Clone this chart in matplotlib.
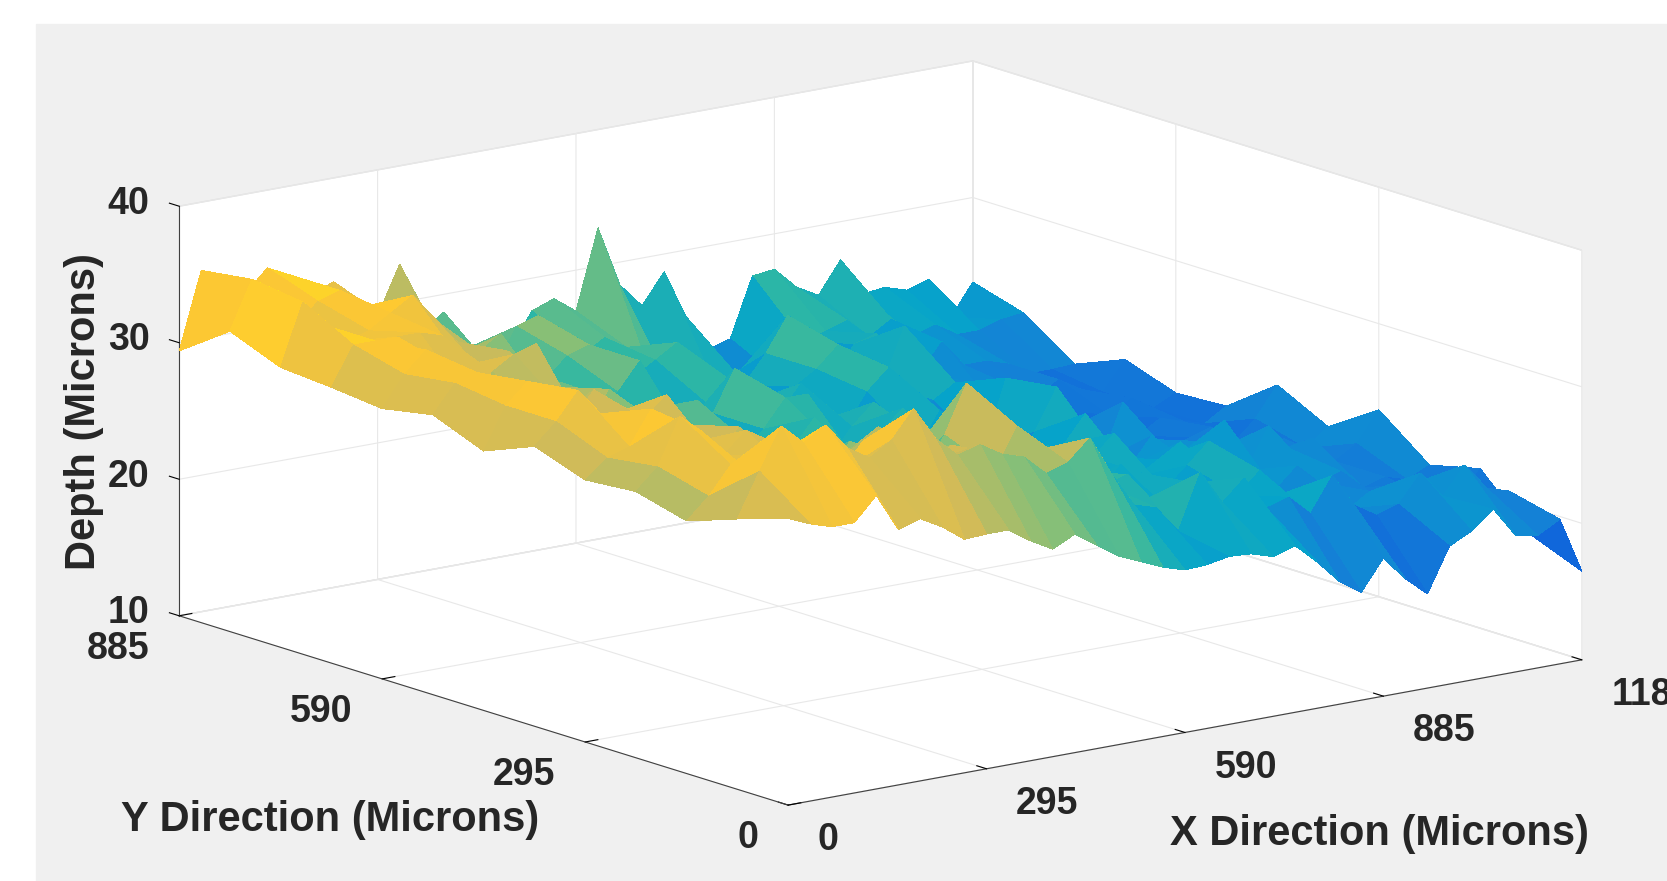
import matplotlib
matplotlib.use('Agg')
import matplotlib.pyplot as plt
from matplotlib.colors import LinearSegmentedColormap
from matplotlib.patches import Rectangle
import numpy as np

plt.rcParams['font.family'] = ['Liberation Sans', 'DejaVu Sans']

# depth, one row per y position (front to back)
y_pos = [0, 73.75, 147.5, 221.25, 295, 368.75, 442.5, 516.25, 590, 663.75, 737.5, 811.25, 885]
x_pos = [i * 1180 / 36 for i in range(37)]
depth = [
 [31.0,30.3,29.8,29.8,31.5,28.7,29.2,28.3,27.1,27.2,27.2,26.1,25.2,26.0,24.9,23.8,23.1,22.4,21.9,22.0,22.3,22.2,21.7,22.2,20.7,19.0,17.9,20.1,18.3,16.9,20.1,20.9,22.2,20.0,19.7,20.6,16.5],
 [29.8,33,36,34.5,35.5,33.5,32.5,33.5,35.5,33,31.5,32,31,30.5,29,29.5,31,28,25.5,25,23,27,24.5,26,23.5,24,22.5,25,22.5,21.5,22,24,22,24,22,21.5,18],
 [28.5,30,32,31,32,30,29.5,30,32,29,28.5,29.5,30.5,28.5,28,31,29,26,24.5,25.5,26,24,22.5,24.5,22.5,23,24.5,22.5,21,22,20.5,21.5,20,21.5,20,19.5,21.7],
 [29.5,31,34.4,33,31,32.5,31.5,29,28,29,30,31,28,27,29.5,33,29.5,26.5,24,26,25,23,25,24,22.5,24,25.5,22,23,21,22.5,21,21.5,20,20.5,20,20.8],
 [29.2,30.5,31,33.5,32,30.5,29,31,29,27,28,26,28.5,26,25,27,28,24.5,26,23,24,25.5,22,24,25.5,22,23,24,21.5,25,21,24,22,22.5,20.5,21.5,23.7],
 [30.5,32,34,32,29.5,31,32.5,30,28,29,26.5,27,25,26.5,26,24.5,26,25,23,25,26,23,24,22,23.5,25.5,22,21,23,21,22,21,21.5,20,21,20,21.3],
 [29,32,33.5,32.5,30,32,30,27,28.5,26,27.5,25,26,24,25,27,24.5,23,25,26.5,24,22.5,25,23,21,23,26,21.5,20,24,21,20,20.5,21,19.5,21,23.2],
 [30.5,32.5,33,31.5,30,28,29,27,30,28.5,26,28,28,25,23.5,25,27,27,22,24,25.5,23,21.5,24,22,20.5,25.5,23,20,21,21,20,19.5,20.5,20,19.5,20.5],
 [29.8,32,33.5,32,29,31,32,32.5,29,27,28,25.5,26,24.5,23,25,28,23,24,26,23,22,24.5,26,21,23,24,21,19.5,21,20,19.5,20,19.5,20.5,19.5,20.3],
 [30.2,33,33,33,33,32.5,30,29,30.5,27.5,26,27,24.5,26,28,23.5,22.5,24,25.5,23.5,22,24,25,26.5,21,23,27,22,21,22,20,21,20,21,20,19.5,21.6],
 [30.5,35,33,31.5,32,33,34,32,30,29,30,27,26,27.5,28,23,25,26,27,25,22,23,25,27.5,23,22,24.5,25,23,21.5,23.5,21.5,21.5,21,20,20,20.1],
 [32,35.5,33,31.5,33,33.5,32,31,30,30.5,27,26,25.5,28.5,29,24,25.5,26.5,25.5,23.5,22,21.5,21.5,22,20.5,21,23.5,24,24.5,23,24,22.5,23,22,22,22.5,22.7],
 [29.4,35.0,31.7,32.7,34.3,33.5,31.7,32.4,30.8,29.3,32.8,27.5,28.7,25.7,25.8,25.1,27.6,28.2,27.0,32.8,28.3,26.5,28.7,25.1,22.4,22.9,27.2,27.4,25.8,24.9,27.2,24.4,24.6,24.1,24.6,21.5,23.8],
]

x_ticks = [0, 295, 590, 885, 1180]
y_ticks = [0, 295, 590, 885]
z_ticks = [10, 20, 30, 40]

parula = ['#352A87', '#0F5CDD', '#1481D6', '#06A4CA', '#2EB7A4',
          '#87BF77', '#D1BB59', '#FEC832', '#F9FB0E']
cmap = LinearSegmentedColormap.from_list('parula', parula)

fig = plt.figure(figsize=(16.67, 8.81), dpi=100, facecolor='white')
fig.patches.append(Rectangle((36 / 1667, 0), 1 - 36 / 1667, 1 - 24 / 881,
                             transform=fig.transFigure, color='#F0F0F0', zorder=-5))

side = 1700
ax = fig.add_axes([(857.5 - side / 2) / 1667, (425 - side / 2) / 881, side / 1667, side / 881],
                  projection='3d', proj_type='ortho')
ax.patch.set_alpha(0)
ax.set_box_aspect((1, 1, 0.4216), zoom=0.843)
ax.view_init(elev=13.8, azim=-127.5)

X, Y = np.meshgrid(x_pos, y_pos)
ax.plot_surface(X, Y, np.array(depth), cmap=cmap, vmin=16, vmax=35.5, rstride=1, cstride=1,
                linewidth=0, antialiased=False, shade=False)

ax.set_xlim(0, 1180)
ax.set_ylim(0, 885)
ax.set_zlim(10, 40)
ax.set_xticks(x_ticks)
ax.set_yticks(y_ticks)
ax.set_zticks(z_ticks)
ax.set_xticklabels([])
ax.set_yticklabels([])
ax.set_zticklabels([])

for axis in (ax.xaxis, ax.yaxis, ax.zaxis):
    axis.set_pane_color('white')
    axis.pane.set_edgecolor('#E0E0E0')
    axis.line.set_color('#404040')
    axis._axinfo['grid']['color'] = '#E8E8E8'
    axis._axinfo['grid']['linewidth'] = 0.8
    axis._axinfo['tick']['inward_factor'] = 0.0
    axis._axinfo['tick']['outward_factor'] = 0.2
    axis._axinfo['tick']['linewidth'] = {True: 0.8, False: 0.8}
    axis._axinfo['tick']['color'] = '#404040'
# z ticks lean along the y direction in the original
ax.zaxis._get_tickdir = lambda pos: 1

tick_style = dict(fontsize=27, fontweight='bold', color='#262626', va='center')
for v in x_ticks:
    ax.text(v, -43, 8.1, str(v), ha='left', **tick_style)
for v in y_ticks:
    ax.text(-44, v, 8.0, str(v), ha='right', **tick_style)
for v in z_ticks:
    ax.text(0, 928, v - 0.5, str(v), ha='right', **tick_style)

label_style = dict(fontsize=30, fontweight='bold', color='#262626', ha='center', va='center')
fig.text(330 / 1667, 1 - 820 / 881, 'Y Direction (Microns)', **label_style)
fig.text(1379 / 1667, 1 - 834 / 881, 'X Direction (Microns)', **label_style)
fig.text(84 / 1667, 1 - 412 / 881, 'Depth (Microns)', rotation=90, **label_style)

fig.savefig('out.png', dpi=100)
